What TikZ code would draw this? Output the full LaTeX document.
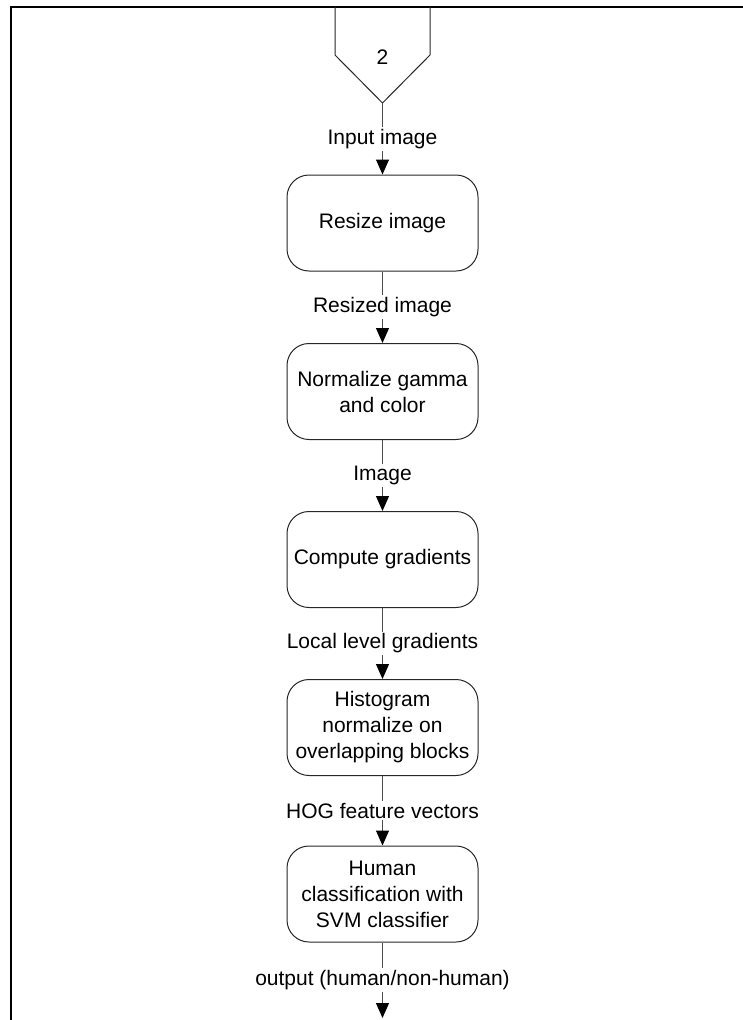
\documentclass[tikz,border=0pt]{standalone}
\usepackage{fontspec}
\setmainfont{Liberation Sans}
\usetikzlibrary{arrows.meta}
\begin{document}
\begin{tikzpicture}[x=1pt,y=-1pt,
  txt/.style={font=\fontsize{21}{26}\selectfont},
  procbox/.style={txt, draw=black!85, line width=1pt, rounded corners=22pt,
    minimum width=191pt, minimum height=96pt, align=center, inner sep=0pt},
  lbl/.style={txt, fill=white, inner sep=2pt},
  flow/.style={draw=black!70, line width=1pt, -{Triangle[width=13pt,length=15pt,color=black]}},
  frame/.style={draw=black, line width=2pt}]
\useasboundingbox (0,0) rectangle (743,1020);
% frame
\draw[frame] (743,6.5) -- (10.5,6.5) -- (10.5,1020);
% off-page connector
\draw[draw=black!85, line width=1pt] (335,6.5) -- (335,55) -- (382.5,103) -- (430,55) -- (430,6.5);
\node[txt] (conn) at (382.5,57) {2};
\coordinate (tip) at (382.5,103);
% process boxes
\node[procbox] (b1) at (382.5,223) {Resize image};
\node[procbox] (b2) at (382.5,391.5) {Normalize gamma\\and color};
\node[procbox] (b3) at (382.5,559.5) {Compute gradients};
\node[procbox] (b4) at (382.5,727.5) {Histogram\\normalize on\\overlapping blocks};
\node[procbox] (b5) at (382.5,894) {Human\\classification with\\SVM classifier};
\coordinate (endpt) at (382.5,1018);
% connectors
\draw[flow] (tip) -- node[lbl] (l0) {Input image} (b1);
\draw[flow] (b1) -- node[lbl] (l1) {Resized image} (b2);
\draw[flow] (b2) -- node[lbl] (l2) {Image} (b3);
\draw[flow] (b3) -- node[lbl] (l3) {Local level gradients} (b4);
\draw[flow] (b4) -- node[lbl] (l4) {HOG feature vectors} (b5);
\draw[flow] (b5) -- node[lbl] (l5) {output (human/non-human)} (endpt);
\end{tikzpicture}
\end{document}
